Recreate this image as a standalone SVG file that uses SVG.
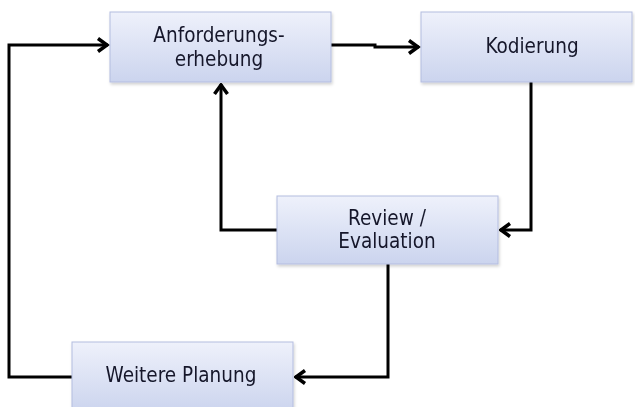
<svg xmlns="http://www.w3.org/2000/svg" width="635" height="407" viewBox="0 0 635 407">
<style>
.box{fill:url(#g);stroke:#b4bde0;stroke-width:1}
.t{font-family:"DejaVu Sans Condensed","DejaVu Sans",sans-serif;font-size:20.5px;fill:#15172a;text-anchor:middle}
.c{fill:none;stroke:#000;stroke-width:3;stroke-linejoin:miter}
</style>
<defs>
<linearGradient id="g" x1="0" y1="0" x2="0" y2="1">
<stop offset="0" stop-color="#eef1fb"/>
<stop offset="1" stop-color="#cbd4ee"/>
</linearGradient>
<filter id="sh" x="-10%" y="-10%" width="120%" height="130%">
<feDropShadow dx="1" dy="2" stdDeviation="1.5" flood-color="#000" flood-opacity="0.18"/>
</filter>
<marker id="a" viewBox="0 0 14 16" refX="12.5" refY="8" markerWidth="14" markerHeight="16" markerUnits="userSpaceOnUse" orient="auto">
<polyline points="2.5,1.5 11.5,8 2.5,14.5" fill="none" stroke="#000" stroke-width="3.5"/>
</marker>
</defs>
<g id="connectors">
<path class="c" d="M72,377 H9 V45 H108" marker-end="url(#a)"/>
<path class="c" d="M331,45 H375 V47 H419" marker-end="url(#a)"/>
<path class="c" d="M531,82 V230 H500" marker-end="url(#a)"/>
<path class="c" d="M277,230 H221 V84" marker-end="url(#a)"/>
<path class="c" d="M388,264 V377 H295" marker-end="url(#a)"/>
</g>
<g id="anforderung" filter="url(#sh)">
<rect class="box" x="110" y="12" width="221" height="70"/>
<text class="t" x="219" y="42">Anforderungs-</text>
<text class="t" x="219" y="66">erhebung</text>
</g>
<g id="kodierung" filter="url(#sh)">
<rect class="box" x="421" y="12" width="211" height="70"/>
<text class="t" x="532" y="53">Kodierung</text>
</g>
<g id="review" filter="url(#sh)">
<rect class="box" x="277" y="196" width="221" height="68"/>
<text class="t" x="387" y="225">Review /</text>
<text class="t" x="387" y="248">Evaluation</text>
</g>
<g id="weitere" filter="url(#sh)">
<rect class="box" x="72" y="342" width="221" height="70"/>
<text class="t" x="181" y="382">Weitere Planung</text>
</g>
</svg>
